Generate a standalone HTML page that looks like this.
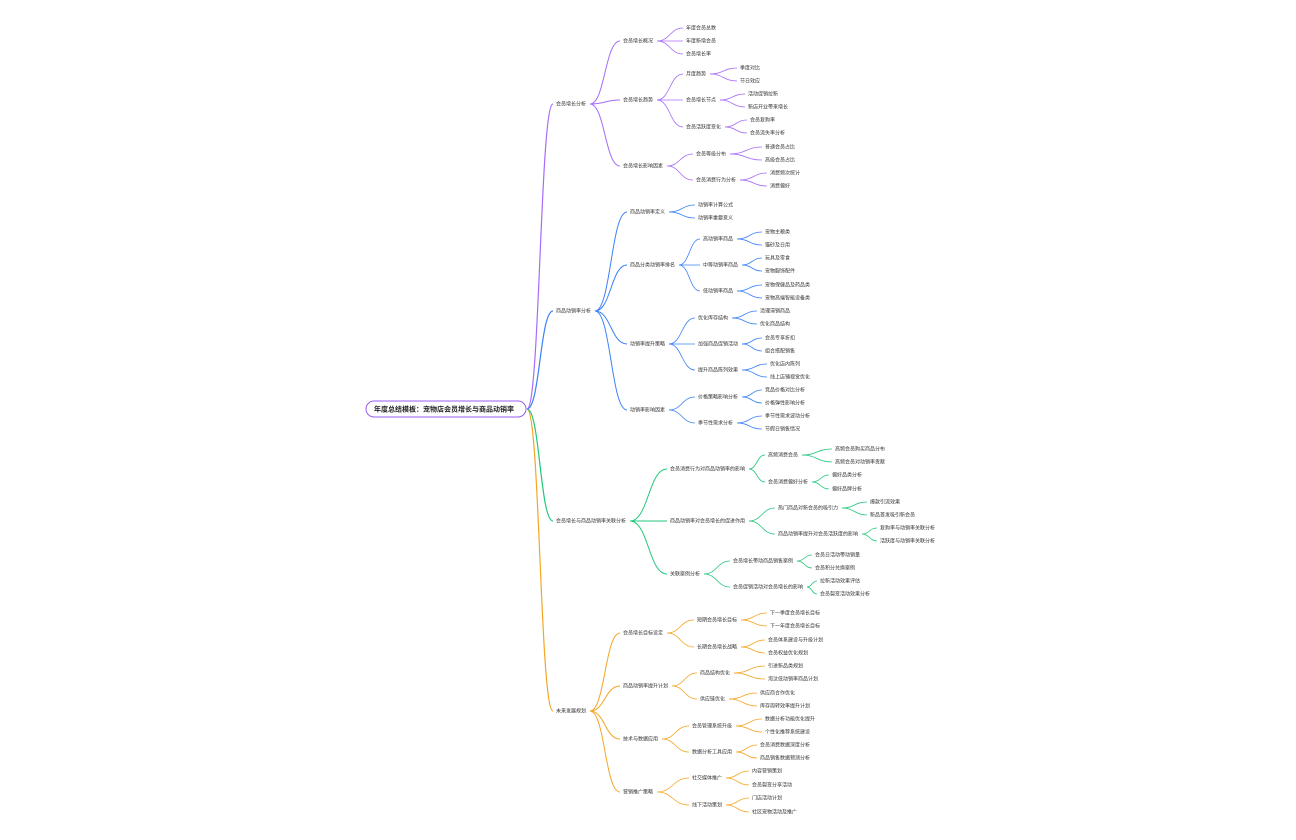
<!DOCTYPE html>
<html><head><meta charset="utf-8"><style>
html,body{margin:0;padding:0;background:#fff;}
svg{display:block}
text{font-family:"Liberation Sans","Noto Sans CJK SC",sans-serif;font-size:5px;fill:#333;dominant-baseline:middle}
</style></head><body>
<svg id="s" width="1296" height="840" xmlns="http://www.w3.org/2000/svg">
<rect x="366" y="401" width="160" height="16" rx="8" fill="#fff" stroke="#9b5cf6" stroke-width="1"/>
<text x="374" y="409.5" style="font-size:7px;font-weight:bold;fill:#222">年度总结模板：宠物店会员增长与商品动销率</text>
</svg>
<script>
var T=[
["#a66cf7",["会员增长分析",556,104,[
 ["会员增长概况",623,41,[["年度会员总数",686,28],["年度新增会员",686,41],["会员增长率",686,54]]],
 ["会员增长趋势",623,100,[
  ["月度趋势",686,74,[["季度对比",740,68],["节日效应",740,81]]],
  ["会员增长节点",686,100,[["活动促销拉新",748,94],["新店开业带来增长",748,107]]],
  ["会员活跃度变化",686,127,[["会员复购率",750,120],["会员流失率分析",750,133]]]]],
 ["会员增长影响因素",623,166,[
  ["会员等级分布",696,154,[["普通会员占比",765,147],["高级会员占比",765,160]]],
  ["会员消费行为分析",696,180,[["消费频次统计",770,173],["消费偏好",770,186]]]]]]]],
["#3b82f6",["商品动销率分析",556,311,[
 ["商品动销率定义",630,212,[["动销率计算公式",698,205],["动销率重要意义",698,218]]],
 ["商品分类动销率排名",630,265,[
  ["高动销率商品",703,239,[["宠物主粮类",765,232],["猫砂及日用",765,245]]],
  ["中等动销率商品",703,265,[["玩具及零食",765,258],["宠物服饰配件",765,271]]],
  ["低动销率商品",703,291,[["宠物保健品及药品类",765,285],["宠物高端智能设备类",765,298]]]]],
 ["动销率提升策略",630,344,[
  ["优化库存结构",698,318,[["清理滞销商品",760,311],["优化商品结构",760,324]]],
  ["加强商品促销活动",698,344,[["会员专享折扣",765,338],["组合搭配销售",765,351]]],
  ["提升商品陈列效果",698,370,[["优化店内陈列",770,364],["线上店铺视觉优化",770,377]]]]],
 ["动销率影响因素",630,410,[
  ["价格策略影响分析",698,397,[["竞品价格对比分析",765,390],["价格弹性影响分析",765,403]]],
  ["季节性需求分析",698,423,[["季节性需求波动分析",765,416],["节假日销售情况",765,429]]]]]]]],
["#22c77a",["会员增长与商品动销率关联分析",556,521,[
 ["会员消费行为对商品动销率的影响",670,469,[
  ["高频消费会员",768,455,[["高频会员购买商品分布",835,449],["高频会员对动销率贡献",835,462]]],
  ["会员消费偏好分析",768,482,[["偏好品类分析",832,475],["偏好品牌分析",832,489]]]]],
 ["商品动销率对会员增长的促进作用",670,521,[
  ["热门商品对新会员的吸引力",778,508,[["爆款引流效果",870,502],["新品首发吸引新会员",870,515]]],
  ["商品动销率提升对会员活跃度的影响",778,534,[["复购率与动销率关联分析",880,528],["活跃度与动销率关联分析",880,541]]]]],
 ["关联案例分析",670,574,[
  ["会员增长带动商品销售案例",733,561,[["会员日活动带动销量",815,555],["会员积分兑换案例",815,568]]],
  ["会员促销活动对会员增长的影响",733,587,[["拉新活动效果评估",820,581],["会员裂变活动效果分析",820,594]]]]]]]],
["#f5a524",["未来发展规划",556,711,[
 ["会员增长目标设定",623,633,[
  ["短期会员增长目标",697,620,[["下一季度会员增长目标",770,613],["下一年度会员增长目标",770,626]]],
  ["长期会员增长战略",697,647,[["会员体系建设与升级计划",768,640],["会员权益优化规划",768,653]]]]],
 ["商品动销率提升计划",623,686,[
  ["商品结构优化",700,673,[["引进新品类规划",768,666],["淘汰低动销率商品计划",768,679]]],
  ["供应链优化",700,699,[["供应商合作优化",760,693],["库存周转效率提升计划",760,706]]]]],
 ["技术与数据应用",623,739,[
  ["会员管理系统升级",692,726,[["数据分析功能优化提升",765,719],["个性化推荐系统建设",765,732]]],
  ["数据分析工具应用",692,752,[["会员消费数据深度分析",760,745],["商品销售数据预测分析",760,758]]]]],
 ["营销推广策略",623,792,[
  ["社交媒体推广",692,778,[["内容营销策划",752,771],["会员裂变分享活动",752,785]]],
  ["线下活动策划",692,805,[["门店活动计划",752,798],["社区宠物活动及推广",752,812]]]]]]]]
];
var s=document.getElementById('s'),NS="http://www.w3.org/2000/svg";
function curve(x1,y1,x2,y2,c,w){var p=document.createElementNS(NS,'path');var m=(x1+x2)/2;
p.setAttribute('d','M'+x1+','+y1+' C'+m+','+y1+' '+m+','+y2+' '+x2+','+y2);
p.setAttribute('fill','none');p.setAttribute('stroke',c);p.setAttribute('stroke-width',w);s.insertBefore(p,s.firstChild);}
function node(n,c,px,py,w){var t=document.createElementNS(NS,'text');t.setAttribute('x',n[1]);t.setAttribute('y',n[2]);t.textContent=n[0];s.appendChild(t);
curve(px,py,n[1]-3,n[2],c,w);
var ex=n[1]+n[0].length*5+4;
if(n[3])n[3].forEach(function(k){node(k,c,ex,n[2],Math.max(w-0.2,0.8));});}
T.forEach(function(b){node(b[1],b[0],527,409,1.2);});
</script>
</body></html>
